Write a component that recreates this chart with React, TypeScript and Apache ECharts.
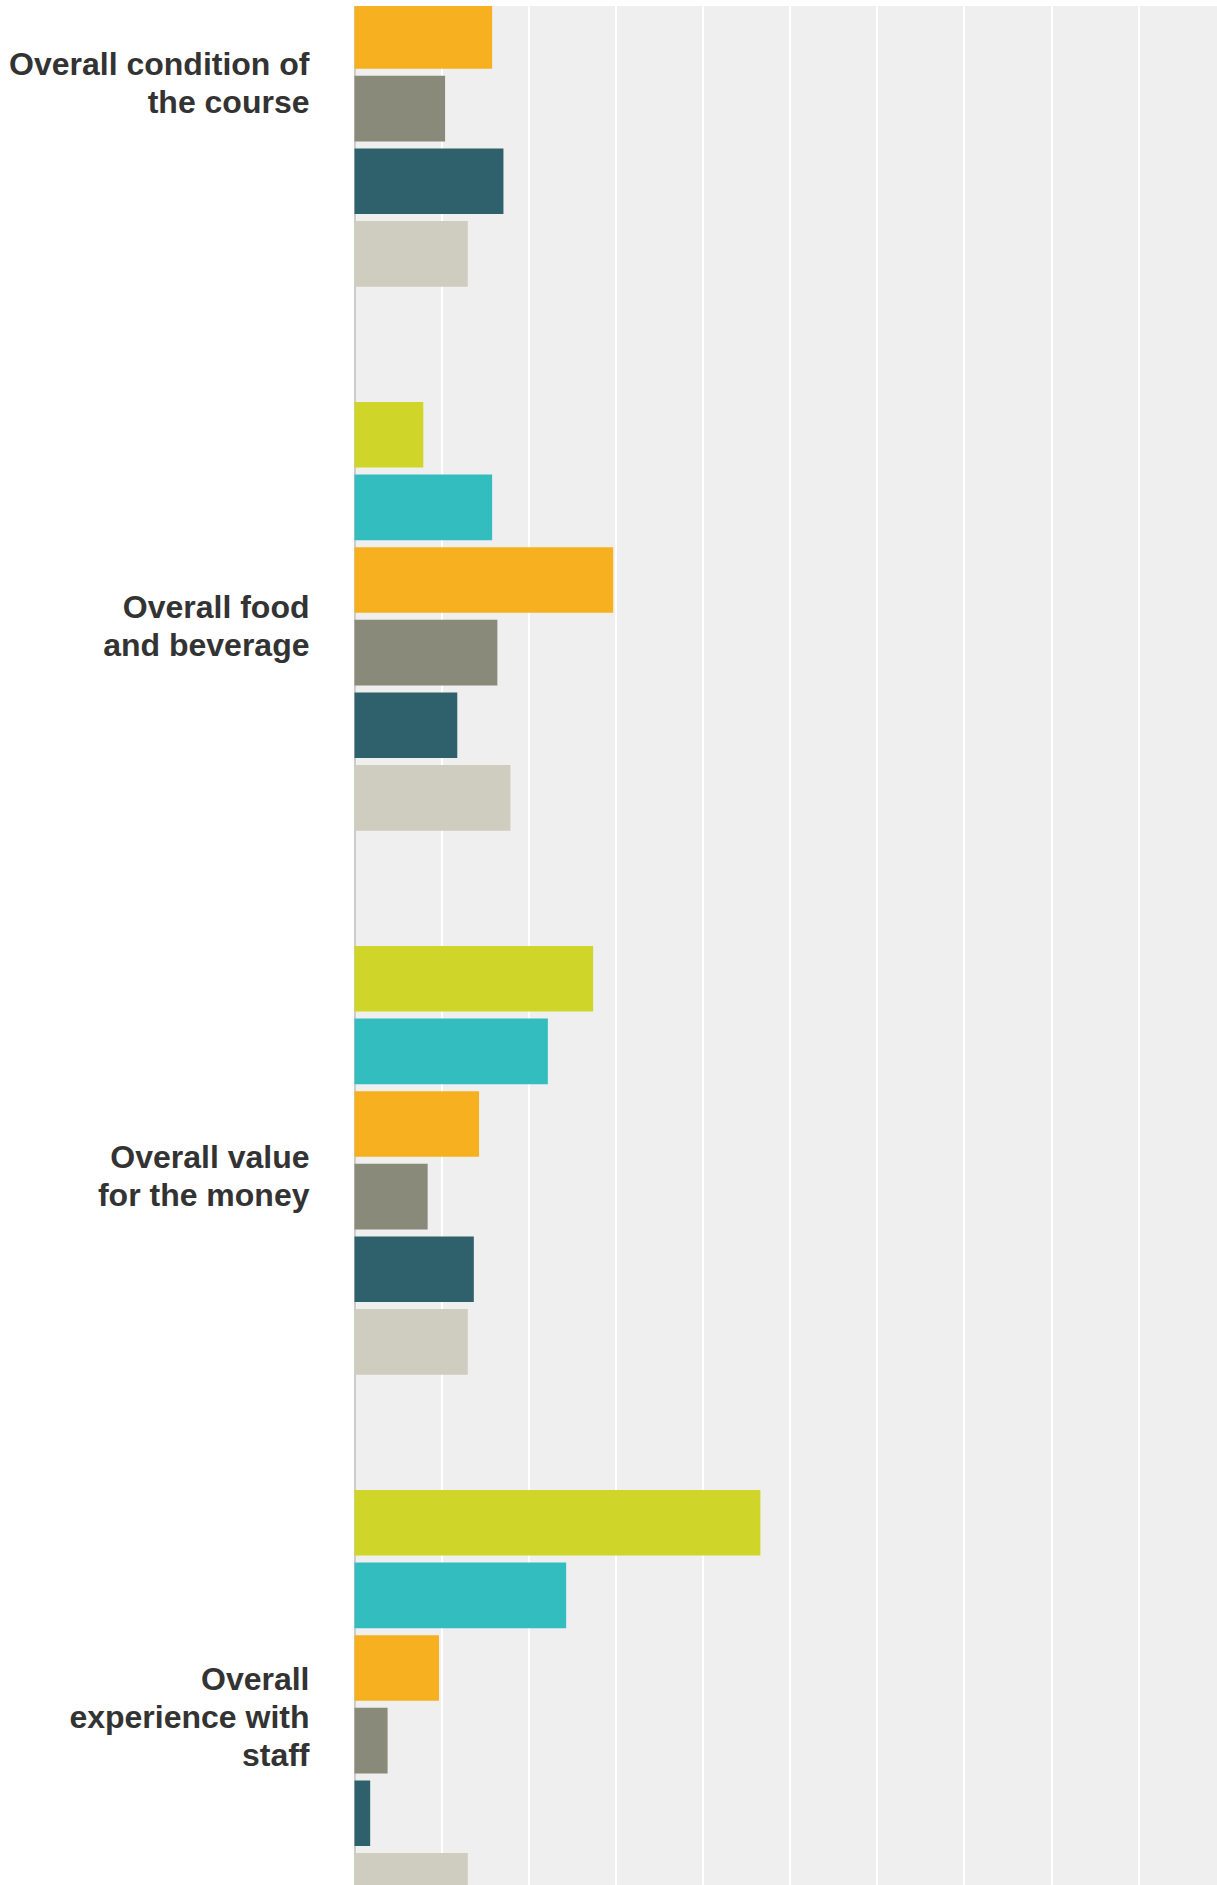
import React, { useEffect, useRef } from "react";
import * as echarts from "echarts";

const categories = [
  "Overall condition of\nthe course",
  "Overall food\nand beverage",
  "Overall value\nfor the money",
  "Overall\nexperience with\nstaff",
];

// percentage of respondents per answer option (bars top to bottom in each group)
const seriesNames = ["Option 1", "Option 2", "Option 3", "Option 4", "Option 5", "Option 6"];
const option1 = [null, 7.9, 27.4, 46.6];
const option2 = [null, 15.8, 22.2, 24.3];
const option3 = [15.8, 29.7, 14.3, 9.7];
const option4 = [10.4, 16.4, 8.4, 3.8];
const option5 = [17.1, 11.8, 13.7, 1.8];
const option6 = [13.0, 17.9, 13.0, 13.0];
const seriesValues = [option1, option2, option3, option4, option5, option6];
const seriesColors = ["#d0d52a", "#33bdbf", "#f7b01f", "#8a8a7a", "#2f616d", "#cfcdbf"];

const xTicks = { min: 0, max: 100, interval: 10 };
// extra leading space (px) above each label block, shifting it down by half
const labelLead = [22, 20, 31, 25];

export default function App() {
  const ref = useRef<HTMLDivElement>(null);
  useEffect(() => {
    if (!ref.current) return;
    const chart = echarts.init(ref.current, null, { renderer: "svg" });
    const font = "'Liberation Sans', Arial, sans-serif";
    const rich: Record<string, any> = {
      t: {
        fontSize: 32,
        fontWeight: "bold",
        color: "#333333",
        lineHeight: 38,
        fontFamily: font,
        align: "right",
      },
    };
    labelLead.forEach((h, i) => {
      rich["s" + i] = { fontSize: 1, lineHeight: h, height: h, align: "right" };
    });
    chart.setOption({
      animation: false,
      grid: {
        left: 354.5,
        top: 20.3,
        width: 871,
        height: 2176,
        show: true,
        backgroundColor: "#efefef",
        borderWidth: 0,
        containLabel: false,
      },
      xAxis: {
        type: "value",
        min: xTicks.min,
        max: xTicks.max,
        interval: xTicks.interval,
        axisLabel: { show: false },
        axisLine: { show: false },
        axisTick: { show: false },
        splitLine: { show: true, lineStyle: { color: "#ffffff", width: 2 } },
      },
      yAxis: {
        type: "category",
        inverse: true,
        data: categories,
        axisLine: { show: true, lineStyle: { color: "#cccccc", width: 2 } },
        axisTick: { show: false },
        splitLine: { show: false },
        axisLabel: {
          margin: 45,
          fontSize: 32,
          fontWeight: "bold",
          color: "#333333",
          lineHeight: 38,
          fontFamily: font,
          align: "right",
          formatter: (v: string, i: number) =>
            `{s${i}| }\n` + v.split("\n").map((l) => `{t|${l}}`).join("\n"),
          rich,
        },
      },
      series: seriesValues.map((vals, i) => ({
        type: "bar",
        name: seriesNames[i],
        data: vals,
        barCategoryGap: "21.2%",
        barGap: "10.6%",
        itemStyle: { color: seriesColors[i] },
      })),
    });
    return () => chart.dispose();
  }, []);
  return (
    <div
      style={{
        position: "fixed",
        top: 6,
        left: 0,
        width: 1217,
        height: 1879,
        overflow: "hidden",
        background: "#ffffff",
      }}
    >
      <div
        ref={ref}
        style={{ position: "absolute", top: -226, left: 0, width: 1240, height: 2236 }}
      />
    </div>
  );
}
